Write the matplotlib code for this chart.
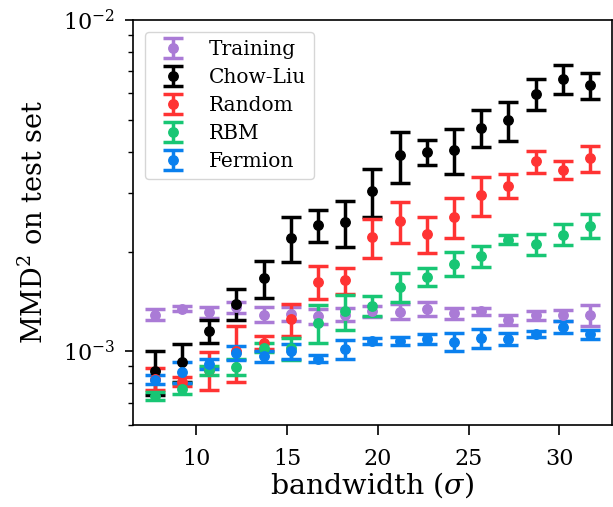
import matplotlib
matplotlib.use("Agg")
import matplotlib.pyplot as plt
import numpy as np
from matplotlib.ticker import LogLocator, NullFormatter

plt.rcParams["font.family"] = "DejaVu Serif"
plt.rcParams["mathtext.fontset"] = "dejavuserif"

bandwidth = [7.7, 9.2, 10.7, 12.2, 13.7, 15.2, 16.7, 18.2, 19.7,
             21.2, 22.7, 24.2, 25.7, 27.2, 28.7, 30.2, 31.7]

# MMD^2 values (x 1e-3) and their error bars
training = [1.29, 1.345, 1.31, 1.357, 1.29, 1.30, 1.275, 1.29, 1.32,
            1.317, 1.343, 1.304, 1.319, 1.242, 1.283, 1.284, 1.284]
training_err = [0.048, 0.025, 0.046, 0.05, 0.066, 0.063, 0.063, 0.057, 0.052,
                0.069, 0.065, 0.05, 0.035, 0.042, 0.04, 0.048, 0.092]

chow_liu = [0.87, 0.93, 1.15, 1.39, 1.66, 2.2, 2.4, 2.46, 3.05,
            3.9, 3.99, 4.06, 4.73, 4.97, 5.97, 6.64, 6.34]
chow_liu_err = [0.13, 0.12, 0.09, 0.15, 0.21, 0.34, 0.265, 0.39, 0.5,
                0.68, 0.35, 0.63, 0.6, 0.67, 0.64, 0.66, 0.57]

random_tree = [0.826, 0.81, 0.88, 1.0, 1.063, 1.25, 1.62, 1.64, 2.21,
               2.47, 2.26, 2.55, 2.96, 3.16, 3.74, 3.53, 3.82]
random_err = [0.063, 0.025, 0.115, 0.19, 0.049, 0.137, 0.186, 0.146, 0.3,
              0.35, 0.28, 0.36, 0.4, 0.26, 0.28, 0.23, 0.34]

rbm = [0.734, 0.772, 0.878, 0.897, 1.026, 1.02, 1.22, 1.32, 1.37,
       1.565, 1.68, 1.84, 1.94, 2.17, 2.11, 2.25, 2.39]
rbm_err = [0.02, 0.031, 0.028, 0.05, 0.033, 0.08, 0.164, 0.16, 0.095,
           0.153, 0.103, 0.153, 0.139, 0.07, 0.156, 0.164, 0.2]

fermion = [0.821, 0.866, 0.918, 0.99, 0.966, 1.0, 0.951, 1.014, 1.074,
           1.074, 1.087, 1.07, 1.094, 1.087, 1.13, 1.184, 1.125]
fermion_err = [0.026, 0.062, 0.032, 0.049, 0.037, 0.054, 0.024, 0.068, 0.025,
               0.031, 0.038, 0.068, 0.072, 0.045, 0.022, 0.05, 0.032]

series = [
    ("Training", training, training_err, "#aa7bd6"),
    ("Chow-Liu", chow_liu, chow_liu_err, "black"),
    ("Random", random_tree, random_err, "#ff3333"),
    ("RBM", rbm, rbm_err, "#18c674"),
    ("Fermion", fermion, fermion_err, "#0a80ee"),
]

fig = plt.figure(figsize=(6.13, 5.07), dpi=100)
ax = fig.add_axes([0.217, 0.162, 0.781, 0.799])

for label, vals, errs, color in series:
    ax.errorbar(bandwidth, np.array(vals) * 1e-3, yerr=np.array(errs) * 1e-3,
                fmt="o", color=color, markersize=6.8, elinewidth=2.5,
                capsize=7, capthick=2.5, label=label)

ax.set_yscale("log")
ax.set_ylim(6e-4, 1e-2)
ax.yaxis.set_minor_locator(LogLocator(base=10, subs=np.arange(2, 10)))
ax.yaxis.set_minor_formatter(NullFormatter())
ax.tick_params(axis="y", which="major", labelsize=16, length=6, width=1.2,
               pad=7)
ax.tick_params(axis="x", which="major", labelsize=16, length=7, width=1.2,
               pad=10)
ax.tick_params(axis="y", which="minor", length=3.5, width=1)
for s in ax.spines.values():
    s.set_linewidth(1.2)

ax.set_xlabel(r"bandwidth ($\sigma$)", fontsize=20.5, labelpad=0)
ax.set_ylabel(r"MMD$^2$ on test set", fontsize=19.5, labelpad=10)

ax.legend(loc="upper left", fontsize=14.5, handletextpad=0.75,
          borderaxespad=0.6, labelspacing=0.45)

fig.savefig("out.png", dpi=100)
